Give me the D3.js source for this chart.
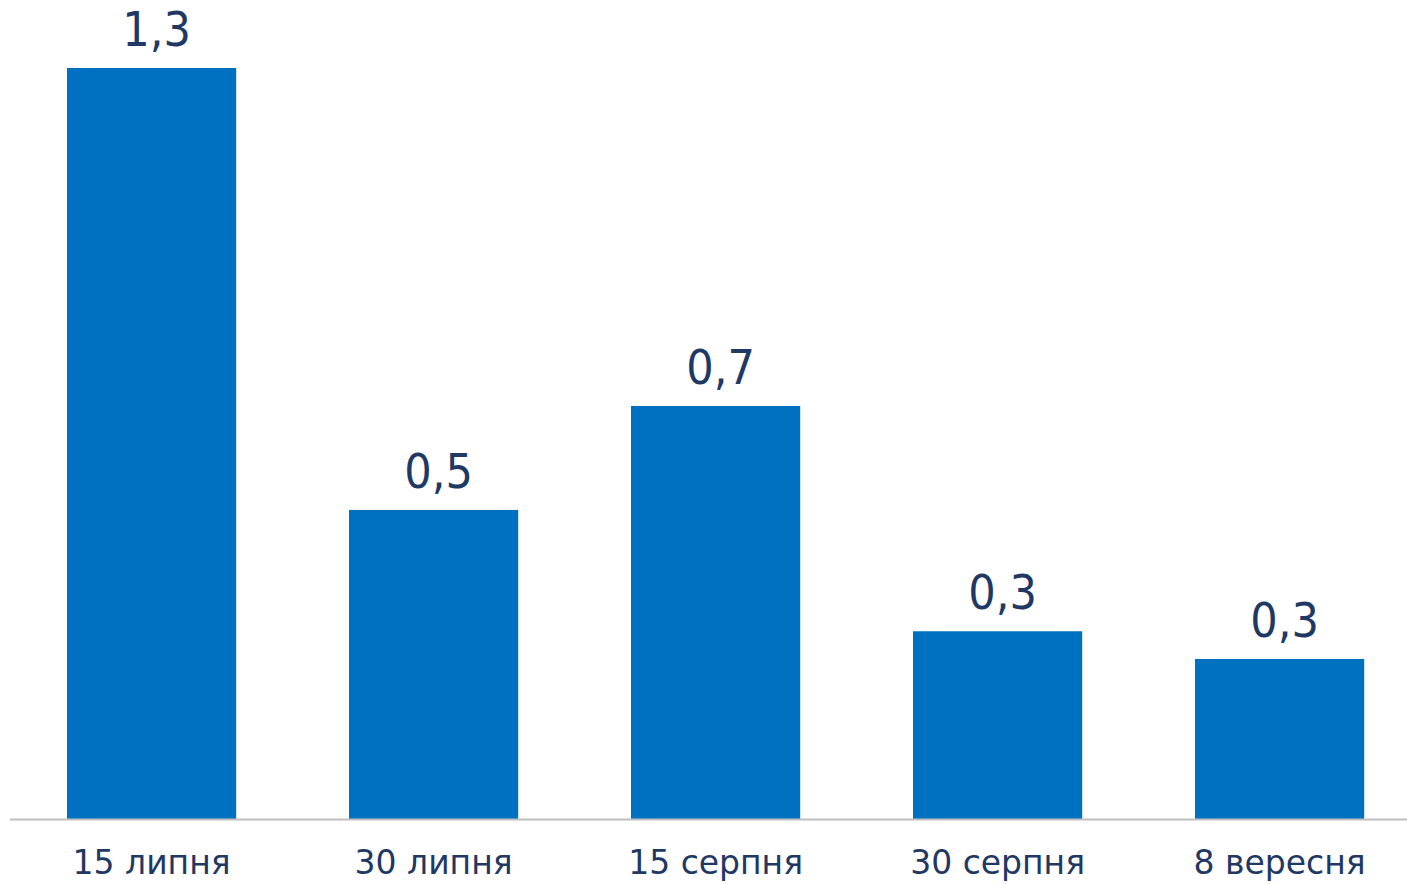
<!DOCTYPE html>
<html><head><meta charset="utf-8">
<script src="https://cdn.jsdelivr.net/npm/d3@7"></script>
<style>html,body{margin:0;padding:0;background:#fff;}svg{display:block;}</style>
</head><body>
<svg id="chart" width="1407" height="884"></svg>
<script>
const categories = ["15 липня", "30 липня", "15 серпня", "30 серпня", "8 вересня"];
const values = [1.30, 0.535, 0.715, 0.325, 0.277];

const svg = d3.select("#chart");
const W = 1407, H = 884;
const baseY = 819;
const x = d3.scaleBand().domain(categories).range([10.6, 1420.6]).paddingInner(0.4).paddingOuter(0.2);
const y = d3.scaleLinear().domain([0, 1.3]).range([baseY, 68]);
const fmt = v => d3.format(".1f")(v).replace(".", ",");
const textColor = "#1f3864";
const font = "'DejaVu Sans', Verdana, sans-serif";
const fontCond = "'DejaVu Sans Condensed', 'DejaVu Sans', sans-serif";

svg.selectAll("rect.bar").data(values).join("rect")
  .attr("class","bar")
  .attr("x",(d,i)=>x(categories[i]))
  .attr("width",x.bandwidth())
  .attr("y",d=>y(d))
  .attr("height",d=>baseY-y(d))
  .attr("fill","#0070c0");

svg.append("line").attr("x1",10).attr("x2",W).attr("y1",baseY+0.5).attr("y2",baseY+0.5)
  .attr("stroke","#bfbfbf").attr("stroke-width",2);

svg.selectAll("text.val").data(values).join("text")
  .attr("class","val")
  .attr("x",(d,i)=>x(categories[i])+x.bandwidth()/2+5)
  .attr("y",d=>y(d)-22)
  .attr("text-anchor","middle")
  .attr("font-family",fontCond).attr("font-stretch","condensed").attr("font-size",48)
  .attr("fill",textColor)
  .text(d=>fmt(d));

const xAxis = d3.axisBottom(x).tickSize(0).tickPadding(0);
const gx = svg.append("g").attr("transform",`translate(0,${baseY})`).call(xAxis);
gx.select(".domain").remove();
gx.selectAll("text").attr("font-family",font).attr("font-size",33).attr("fill",textColor)
  .attr("dy",null).attr("y",55);
</script>
</body></html>
